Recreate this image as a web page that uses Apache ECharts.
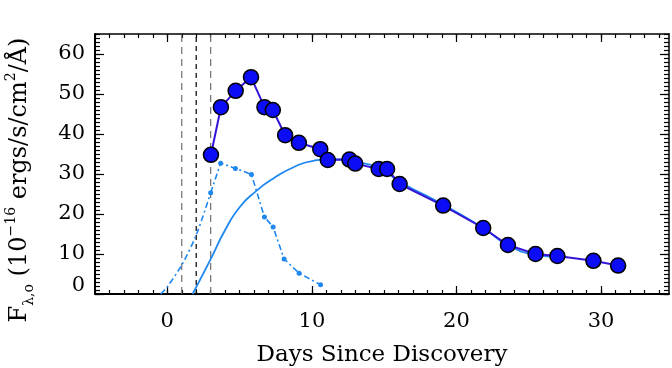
<!DOCTYPE html>
<html>
<head>
<meta charset="utf-8">
<script src="https://cdn.jsdelivr.net/npm/echarts@6/dist/echarts.min.js"></script>
<style>
  html, body { margin: 0; padding: 0; background: #fff; }
  #chart { width: 672px; height: 368px; }
</style>
</head>
<body>
<div id="chart"></div>
<script>
// Observed light curve (days since discovery, flux)
const obsDays = [3.02, 3.71, 4.73, 5.79, 6.72, 7.30, 8.15, 9.10, 10.58, 11.10, 12.60, 13.00,
                 14.62, 15.20, 16.07, 19.08, 21.85, 23.56, 25.47, 26.98, 29.47, 31.18];
const obsFlux = [34.8, 46.7, 50.8, 54.2, 46.7, 46.0, 39.7, 37.8, 36.2, 33.5, 33.6, 32.6,
                 31.25, 31.25, 27.5, 22.1, 16.5, 12.25, 10.0, 9.5, 8.3, 7.1];

// Early component (dash-dot, with markers)
const earlyDays = [3.00, 3.69, 4.71, 5.82, 6.72, 7.32, 8.08, 9.12, 10.60];
const earlyFlux = [25.3, 32.7, 31.4, 29.9, 19.25, 16.75, 8.75, 5.2, 2.3];

// Early component rise before the first marker (dash-dot, no markers)
const riseDays = [-0.45, 0.0, 1.0, 2.0, 3.0];
const riseFlux = [0.0, 1.8, 7.25, 14.75, 25.3];

// Smooth model curve (solid light blue)
const modelDays = [1.75, 3.0, 4.0, 5.03, 6.1, 7.34, 8.73, 10.1, 11.5, 13.0, 14.6, 16.1,
                   19.1, 21.9, 23.5, 25.5, 27.0];
const modelFlux = [0.0, 8.7, 16.0, 21.8, 25.6, 28.9, 31.7, 33.3, 33.7, 33.0, 31.6, 28.0,
                   22.3, 16.4, 12.3, 9.8, 9.3];

// Vertical reference epochs
const grayEpochs = [1, 3];
const blackEpochs = [2];

// Axis ticks
const xMajor = [0, 10, 20, 30];
const yMajor = [0, 10, 20, 30, 40, 50, 60];
const X_MIN = -5, X_MAX = 34.7, Y_MIN = 0, Y_MAX = 65;

const xMinor = [];
for (let d = X_MIN; d <= 34; d++) xMinor.push(d);
const yMinor = [];
for (let f = Y_MIN; f <= Y_MAX; f++) yMinor.push(f);

const zip = (a, b) => a.map((v, i) => [v, b[i]]);
const FONT = 'DejaVu Serif';
const LIGHT = '#1E88F0';

function xAxisDef(pos, ticks, len, withLabels, withLine) {
  return {
    type: 'value', min: X_MIN, max: X_MAX, position: pos,
    axisLine: { show: withLine, onZero: false, lineStyle: { color: '#000', width: pos === 'bottom' ? 2 : 1.5 } },
    axisTick: { show: true, inside: true, length: len, customValues: ticks, lineStyle: { color: '#000', width: 1.2 } },
    axisLabel: withLabels ? { show: true, customValues: xMajor, margin: 17, color: '#000', fontFamily: FONT, fontSize: 21 } : { show: false },
    splitLine: { show: false }
  };
}
function yAxisDef(pos, ticks, len, withLabels, withLine) {
  return {
    type: 'value', min: Y_MIN, max: Y_MAX, position: pos,
    axisLine: { show: withLine, onZero: false, lineStyle: { color: '#000', width: pos === 'left' ? 2 : 1.5 } },
    axisTick: { show: true, inside: true, length: len, customValues: ticks, lineStyle: { color: '#000', width: 1.2 } },
    axisLabel: withLabels ? {
      show: true, customValues: yMajor, margin: 10, color: '#000', fontFamily: FONT, fontSize: 21,
      formatter: v => v === 0 ? '{z|0}' : String(v),
      rich: { z: { fontFamily: FONT, fontSize: 21, color: '#000', padding: [0, 0, 16, 0] } }
    } : { show: false },
    splitLine: { show: false }
  };
}

const xAxes = [
  Object.assign(xAxisDef('bottom', xMajor, 8, true, true), {
    name: 'Days Since Discovery', nameLocation: 'middle', nameGap: 50,
    nameTextStyle: { fontFamily: FONT, fontSize: 23, color: '#000' }
  }),
  xAxisDef('bottom', xMinor, 4, false, false),
  xAxisDef('top', xMajor, 8, false, true),
  xAxisDef('top', xMinor, 4, false, false)
];
const yAxes = [
  yAxisDef('left', yMajor, 9, true, true),
  yAxisDef('left', yMinor, 5, false, false),
  yAxisDef('right', yMajor, 9, false, true),
  yAxisDef('right', yMinor, 5, false, false)
];

function epochLine(d, color, dash) {
  return {
    type: 'line', data: [[d, Y_MIN], [d, Y_MAX]], symbol: 'none', silent: true, z: 1,
    lineStyle: { color: color, width: 1.2, type: dash }
  };
}

const series = [];
grayEpochs.forEach(d => series.push(epochLine(d, '#6e6e6e', [7, 5])));
blackEpochs.forEach(d => series.push(epochLine(d, '#000', [5, 4])));

series.push({
  type: 'line', data: zip(riseDays, riseFlux), smooth: 0.3, symbol: 'none', z: 2,
  lineStyle: { color: LIGHT, width: 1.6, type: [6, 3, 2, 3] }
});
series.push({
  type: 'line', data: zip(earlyDays, earlyFlux), symbol: 'circle', symbolSize: 5, z: 2,
  itemStyle: { color: LIGHT },
  lineStyle: { color: LIGHT, width: 1.6, type: [6, 3, 2, 3] }
});
series.push({
  type: 'line', data: zip(modelDays, modelFlux), smooth: 0.55, symbol: 'none', z: 3,
  lineStyle: { color: LIGHT, width: 1.8 }
});
series.push({
  type: 'line', data: zip(obsDays, obsFlux), symbol: 'circle', symbolSize: 15, z: 5,
  lineStyle: { color: '#3414D8', width: 2 },
  itemStyle: { color: '#0C0CF6', borderColor: '#000', borderWidth: 1.5 }
});

const chart = echarts.init(document.getElementById('chart'), null, { renderer: 'canvas' });
chart.setOption({
  animation: false,
  backgroundColor: '#fff',
  grid: { left: 95, right: 3, top: 34, bottom: 74, containLabel: false, outerBoundsMode: 'none' },
  xAxis: xAxes,
  yAxis: yAxes,
  series: series.map(s => Object.assign({ xAxisIndex: 0, yAxisIndex: 0, clip: true }, s)),
  graphic: [{
    type: 'text', x: 20, y: 180, rotation: Math.PI / 2,
    style: {
      text: '{n|F}{sub|λ,o}{n| (10}{sup|−16}{n| ergs/s/cm}{sup|2}{n|/Å)}',
      align: 'center', verticalAlign: 'middle', fill: '#000',
      rich: {
        n: { fontFamily: FONT, fontSize: 24, lineHeight: 32, fill: '#000' },
        sub: { fontFamily: FONT, fontSize: 14, verticalAlign: 'bottom', fill: '#000' },
        sup: { fontFamily: FONT, fontSize: 14, verticalAlign: 'top', fill: '#000' }
      }
    }
  }]
});
</script>
</body>
</html>
